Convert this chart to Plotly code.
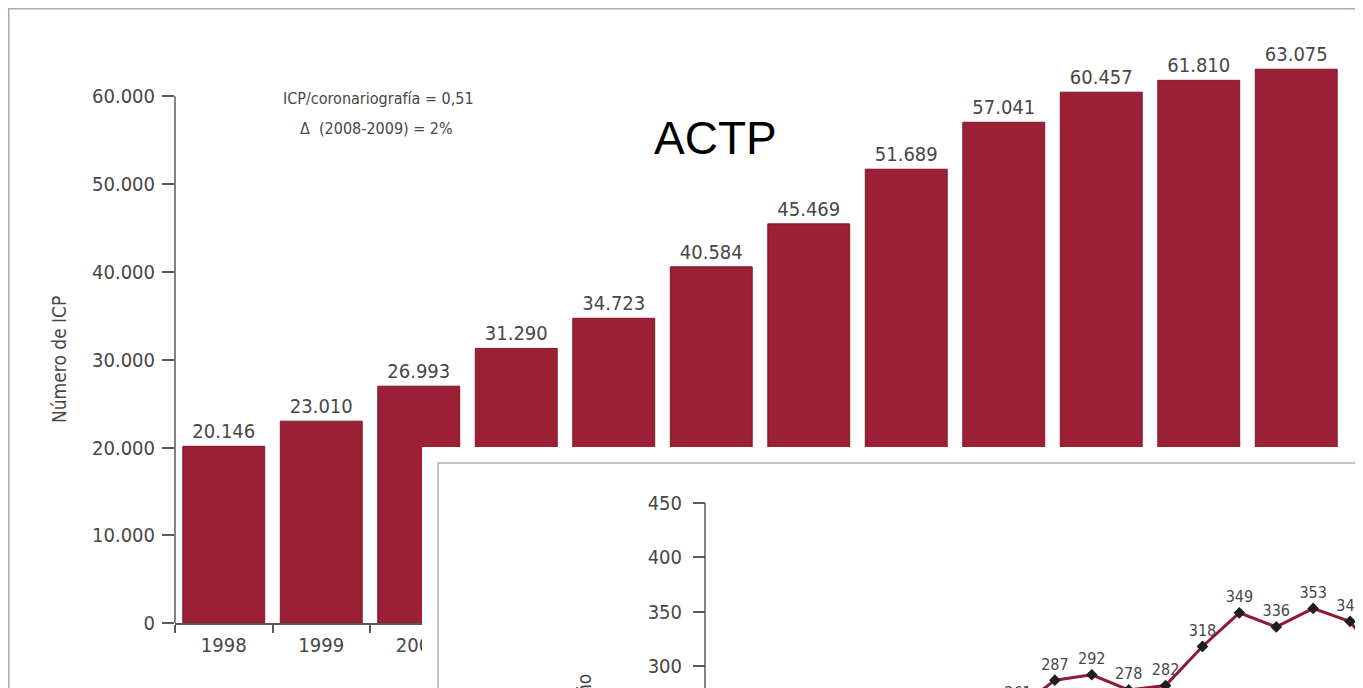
import plotly.graph_objects as go

# Main chart: number of PCI procedures per year
years = ['1998', '1999', '2000', '2001', '2002', '2003',
         '2004', '2005', '2006', '2007', '2008', '2009']
icp_counts = [20146, 23010, 26993, 31290, 34723, 40584,
              45469, 51689, 57041, 60457, 61810, 63075]
y_ticks = [0, 10000, 20000, 30000, 40000, 50000, 60000]

# Inset chart (only partly visible)
inset_index = [10, 11, 12, 13, 14, 15, 16, 17, 18, 19, 20]
inset_values = [261, 287, 292, 278, 282, 318, 349, 336, 353, 341, 297]
inset_ticks = [300, 350, 400, 450]

# the page adds an 8 px body margin, so the figure covers 8..1363 x 8..688
OFF = 8
W, H = 1363 - OFF, 688 - OFF
BAR_COLOR = '#9b1f35'
TEXT_COLOR = '#474747'
AXIS_COLOR = '#5a5a5a'
FONT = 'Liberation Sans Narrow, Arial Narrow, DejaVu Sans Condensed, sans-serif'


def px_x(p):
    return (p - OFF) / W


def px_y(p):
    return (H - (p - OFF)) / H


fig = go.Figure()

fig.add_trace(go.Bar(
    x=years,
    y=icp_counts,
    marker=dict(color=BAR_COLOR, line=dict(color='#7d1829', width=1)),
    texttemplate='%{y:,}',
    textposition='outside',
    textfont=dict(family=FONT, size=20, color=TEXT_COLOR),
    cliponaxis=False,
    xaxis='x', yaxis='y',
    showlegend=False
))

# clipped to the inset plot area, so labels of low points stay visible
fig.add_trace(go.Scatter(
    x=inset_index,
    y=inset_values,
    mode='lines+markers+text',
    text=[str(v) for v in inset_values],
    textposition='top center',
    textfont=dict(family=FONT, size=16, color=TEXT_COLOR),
    line=dict(color='#8e1a33', width=3),
    marker=dict(symbol='diamond', size=9, color='#1e1e1e'),
    cliponaxis=True,
    xaxis='x2', yaxis='y2',
    showlegend=False
))

fig.update_layout(
    width=W, height=H,
    margin=dict(l=0, r=0, t=0, b=0),
    paper_bgcolor='white',
    plot_bgcolor='white',
    separators=',.',
    bargap=0.16,
    font=dict(family=FONT, size=20, color=TEXT_COLOR),
    xaxis=dict(
        domain=[px_x(175), px_x(1345)],
        range=[-0.5, 11.5],
        anchor='y',
        showline=True, linecolor=AXIS_COLOR, linewidth=1.5,
        ticks='outside', tickson='boundaries', ticklen=8,
        tickcolor=AXIS_COLOR, tickwidth=1.5, ticklabelstandoff=3,
        showgrid=False, zeroline=False,
        tickfont=dict(family=FONT, size=20, color=TEXT_COLOR),
        automargin=False
    ),
    yaxis=dict(
        domain=[px_y(623.3), px_y(40)],
        range=[0, 66400],
        anchor='x',
        tickvals=y_ticks, tickformat=',',
        ticks='outside', ticklen=12, tickcolor=AXIS_COLOR, tickwidth=1.5,
        ticklabelstandoff=3,
        showline=False, showgrid=False, zeroline=False,
        tickfont=dict(family=FONT, size=20, color=TEXT_COLOR),
        automargin=False
    ),
    xaxis2=dict(
        domain=[px_x(422), 1],
        range=[-6.15, 19.35],
        anchor='y2',
        visible=False
    ),
    yaxis2=dict(
        domain=[0, px_y(447)],
        range=[279.8, 501.5],
        anchor='free', position=px_x(705),
        tickvals=inset_ticks,
        ticks='outside', ticklen=12, tickcolor=AXIS_COLOR, tickwidth=1.5,
        ticklabelstandoff=7,
        showline=False, showgrid=False, zeroline=False,
        tickfont=dict(family=FONT, size=20, color=TEXT_COLOR),
        automargin=False
    )
)

# y axis line of the main chart stops at 60.000
fig.add_shape(type='line', xref='paper', yref='y',
              x0=px_x(175), x1=px_x(175), y0=0, y1=60000,
              line=dict(color=AXIS_COLOR, width=1.5), layer='above')

# y axis line of the inset stops at 450
fig.add_shape(type='line', xref='paper', yref='y2',
              x0=px_x(705), x1=px_x(705), y0=450, y1=250,
              line=dict(color=AXIS_COLOR, width=1.5), layer='above')

# frame of the inset
fig.add_shape(type='rect', xref='paper', yref='paper',
              x0=px_x(438), x1=1.05, y0=-0.05, y1=px_y(463),
              line=dict(color='#b9aab3', width=1.5), layer='above')

# outer frame
fig.add_shape(type='rect', xref='paper', yref='paper',
              x0=px_x(8.5), x1=1.05, y0=-0.05, y1=px_y(8.5),
              line=dict(color='#b7a3ae', width=2), layer='above')

fig.add_annotation(text='Número de ICP', textangle=-90,
                   xref='paper', yref='paper', x=px_x(59), y=px_y(359),
                   xanchor='center', yanchor='middle',
                   showarrow=False, font=dict(family=FONT, size=19, color=TEXT_COLOR))

fig.add_annotation(text='ICP/coronariografía = 0,51',
                   xref='paper', yref='paper', x=px_x(378), y=px_y(99),
                   xanchor='center', yanchor='middle',
                   showarrow=False, font=dict(family=FONT, size=16, color=TEXT_COLOR))

fig.add_annotation(text='Δ  (2008-2009) = 2%',
                   xref='paper', yref='paper', x=px_x(377), y=px_y(128),
                   xanchor='center', yanchor='middle',
                   showarrow=False, font=dict(family=FONT, size=16, color=TEXT_COLOR))

fig.add_annotation(text='ACTP',
                   xref='paper', yref='paper', x=px_x(715), y=px_y(138),
                   xanchor='center', yanchor='middle',
                   showarrow=False, font=dict(family='Liberation Sans, Arial, sans-serif',
                                              size=46, color='black'))

# inset y axis title, only its last letter is inside the picture
fig.add_annotation(text='ICP por millón de habitantes y año', textangle=-90,
                   xref='paper', yref='paper', x=px_x(583), y=px_y(672),
                   xanchor='center', yanchor='top', showarrow=False,
                   font=dict(family=FONT, size=19, color=TEXT_COLOR))

fig.write_html("out.html")
